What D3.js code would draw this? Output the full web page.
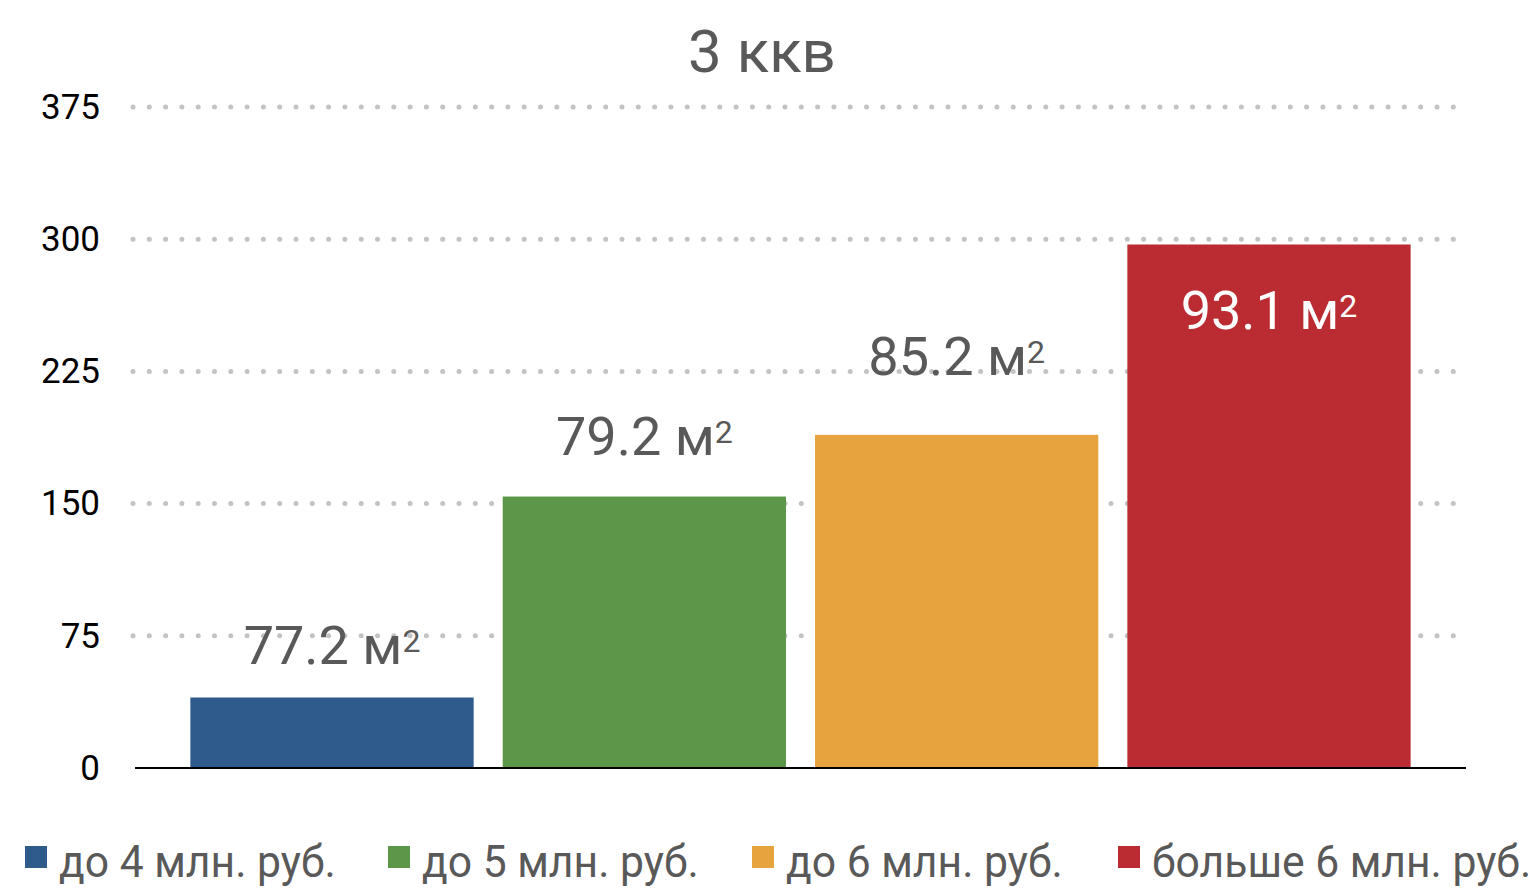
<!DOCTYPE html>
<html>
<head>
<meta charset="utf-8">
<script src="https://cdn.jsdelivr.net/npm/d3@7"></script>
<style>
  body { margin: 0; background: #fff; }
  svg { display: block; font-family: Roboto, "Noto Sans", sans-serif; }
</style>
</head>
<body>
<svg width="1538" height="888"></svg>
<script>
var categories = ["до 4 млн. руб.", "до 5 млн. руб.", "до 6 млн. руб.", "больше 6 млн. руб."];
var values = [40, 154, 189, 297];
var labels = ["77.2", "79.2", "85.2", "93.1"];
var colors = ["#2E5A8C", "#5C9649", "#E6A33E", "#BA2C31"];
var ticks = [0, 75, 150, 225, 300, 375];
var title = "3 ккв";
// label baseline offset above bar top (negative = inside bar)
var labelDy = [33, 42, 60, -85];

var svg = d3.select("svg");
var x = d3.scaleBand().domain(categories).range([176, 1425]).paddingInner(0.093).paddingOuter(0.046);
var y = d3.scaleLinear().domain([0, 375]).range([768, 107]);

svg.append("text")
  .attr("x", 762).attr("y", 72)
  .attr("text-anchor", "middle")
  .attr("font-size", 60)
  .attr("fill", "#595959")
  .text(title);

// gridlines
svg.append("g").selectAll("line")
  .data(ticks.filter(d => d > 0))
  .join("line")
  .attr("x1", 133).attr("x2", 1456)
  .attr("y1", d => y(d)).attr("y2", d => y(d))
  .attr("stroke", "#C3C3C3")
  .attr("stroke-width", 5)
  .attr("stroke-linecap", "round")
  .attr("stroke-dasharray", "0 16.3");

// y axis labels
var yAxis = svg.append("g")
  .attr("transform", "translate(100,0)")
  .call(d3.axisLeft(y).tickValues(ticks).tickSize(0).tickPadding(0));
yAxis.select(".domain").remove();
yAxis.selectAll("text")
  .attr("font-size", 35)
  .attr("font-family", "Roboto, sans-serif")
  .attr("fill", "#000");

// bars
svg.append("g").selectAll("rect")
  .data(values)
  .join("rect")
  .attr("x", (d, i) => x(categories[i]))
  .attr("width", x.bandwidth())
  .attr("y", d => y(d))
  .attr("height", d => y(0) - y(d))
  .attr("fill", (d, i) => colors[i]);

// baseline
svg.append("line")
  .attr("x1", 135).attr("x2", 1466)
  .attr("y1", y(0)).attr("y2", y(0))
  .attr("stroke", "#000").attr("stroke-width", 2);

// value labels
var lab = svg.append("g").selectAll("text")
  .data(values)
  .join("text")
  .attr("x", (d, i) => x(categories[i]) + x.bandwidth() / 2)
  .attr("y", (d, i) => y(d) - labelDy[i])
  .attr("text-anchor", "middle")
  .attr("font-size", 54)
  .attr("fill", (d, i) => labelDy[i] < 0 ? "#fff" : "#595959");
lab.append("tspan").text((d, i) => labels[i] + " м");
lab.append("tspan").attr("font-size", 32).attr("dy", -12).text("2");

// legend
var legX = [25, 388, 752, 1118];
var leg = svg.append("g").selectAll("g")
  .data(categories)
  .join("g")
  .attr("transform", (d, i) => "translate(" + legX[i] + ",0)");
leg.append("rect")
  .attr("x", 0).attr("y", 846).attr("width", 22).attr("height", 22)
  .attr("fill", (d, i) => colors[i]);
leg.append("text")
  .attr("transform", "translate(34,877) scale(0.97,1)")
  .attr("font-size", 44)
  .attr("fill", "#595959")
  .text(d => d);
</script>
</body>
</html>
